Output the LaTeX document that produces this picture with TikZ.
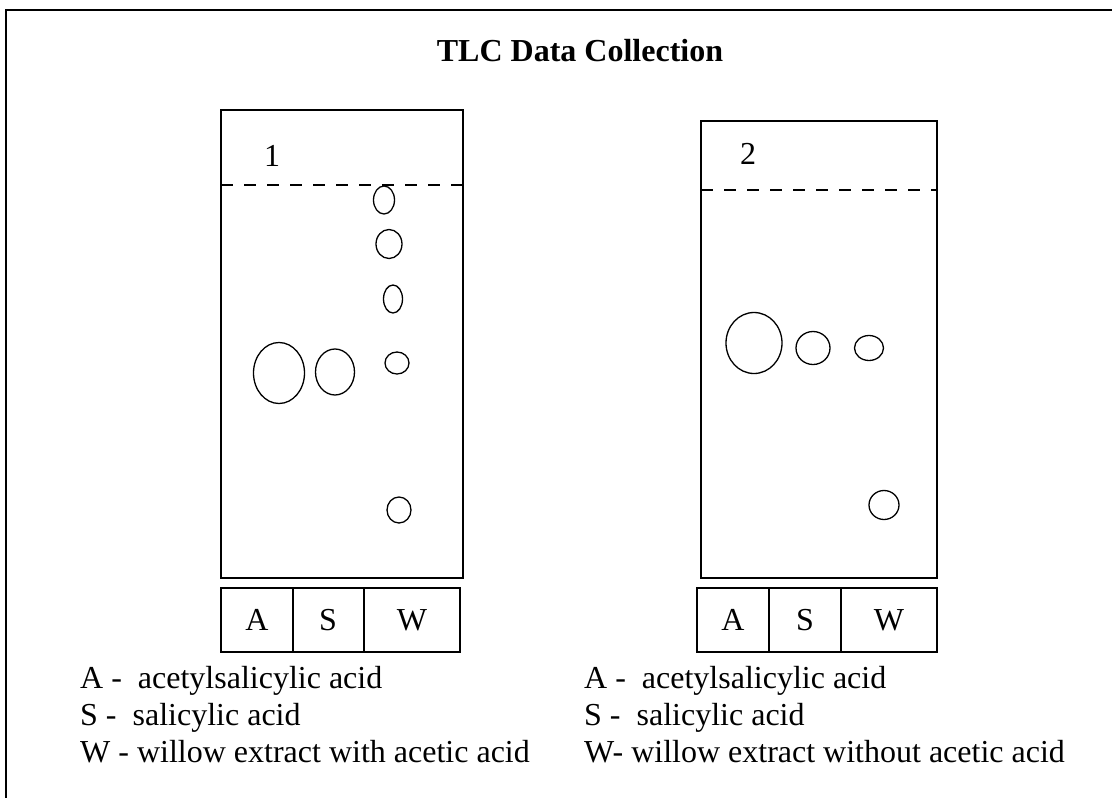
\documentclass[tikz,border=0pt]{standalone}
\usepackage{fontspec}
\setmainfont{Liberation Serif}
\begin{document}
\begin{tikzpicture}[x=1pt,y=-1pt,
  frame/.style={line width=1.8pt},
  plate/.style={line width=1.1pt},
  front/.style={line width=1.1pt, dash pattern=on 12pt off 11pt},
  spot/.style={line width=1.3pt},
  txt/.style={font=\fontsize{32}{38}\selectfont, inner sep=0pt},
  ttl/.style={font=\fontsize{32}{38}\selectfont\bfseries, inner sep=0pt},
  cellbox/.style={line width=1.3pt}]
\useasboundingbox (0,0) rectangle (1112,798);
% frame
\draw[frame] (6,798) -- (6,10) -- (1112,10);
% title
\node[ttl, anchor=base] (title) at (580,61) {TLC Data Collection};

% ---- plate 1
\draw[plate] (221,110) rectangle (463,578);
\draw[front] (221,185) -- (463,185);
\node[txt] (n1) at (272,156) {1};
\draw[spot] (384,200) ellipse [x radius=10.5, y radius=14];
\draw[spot] (389,244) ellipse [x radius=13, y radius=14.5];
\draw[spot] (393,299) ellipse [x radius=9.5, y radius=14];
\draw[spot] (397,363) ellipse [x radius=12, y radius=11];
\draw[spot] (279,373) ellipse [x radius=25.5, y radius=30.5];
\draw[spot] (335,372) ellipse [x radius=19.5, y radius=23];
\draw[spot] (399,510) ellipse [x radius=12, y radius=13];
% lane box 1
\draw[cellbox] (221,588) rectangle (460,652);
\draw[cellbox] (293,588) -- (293,652);
\draw[cellbox] (364,588) -- (364,652);
\node[txt] (a1) at (257,620) {A};
\node[txt] (s1) at (328,620) {S};
\node[txt] (w1) at (412,620) {W};

% ---- plate 2
\draw[plate] (701,121) rectangle (937,578);
\draw[front] (701,190) -- (937,190);
\node[txt] (n2) at (748,154) {2};
\draw[spot] (754,343) ellipse [x radius=28, y radius=30.5];
\draw[spot] (813,348) ellipse [x radius=17, y radius=16.5];
\draw[spot] (869,348) ellipse [x radius=14.5, y radius=12.5];
\draw[spot] (884,505) ellipse [x radius=15, y radius=14.5];
% lane box 2
\draw[cellbox] (697,588) rectangle (937,652);
\draw[cellbox] (769,588) -- (769,652);
\draw[cellbox] (841,588) -- (841,652);
\node[txt] (a2) at (733,620) {A};
\node[txt] (s2) at (805,620) {S};
\node[txt] (w2) at (889,620) {W};

% ---- legends
\node[txt, anchor=base west] (la1) at (80,688) {A -\ \ acetylsalicylic acid};
\node[txt, anchor=base west] (ls1) at (80,725) {S -\ \ salicylic acid};
\node[txt, anchor=base west] (lw1) at (80,762) {W - willow extract with acetic acid};
\node[txt, anchor=base west] (la2) at (584,688) {A -\ \ acetylsalicylic acid};
\node[txt, anchor=base west] (ls2) at (584,725) {S -\ \ salicylic acid};
\node[txt, anchor=base west] (lw2) at (584,762) {W- willow extract without acetic acid};
\end{tikzpicture}
\end{document}
